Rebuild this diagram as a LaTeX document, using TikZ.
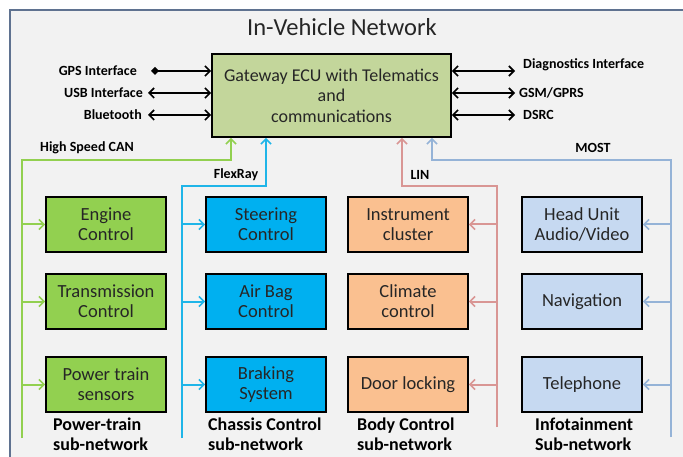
\documentclass[tikz,border=0pt]{standalone}
\usepackage{fontspec}
\setmainfont{Carlito}
\usetikzlibrary{arrows.meta}

\definecolor{pagebg}{HTML}{F2F2F2}
\definecolor{framecol}{HTML}{5F7290}
\definecolor{gwfill}{HTML}{C3D69B}
\definecolor{ptfill}{HTML}{92D050}
\definecolor{ptbus}{HTML}{92D050}
\definecolor{chfill}{HTML}{00B0F0}
\definecolor{chbus}{HTML}{1FB5E8}
\definecolor{bdfill}{HTML}{FAC090}
\definecolor{bdbus}{HTML}{D99694}
\definecolor{iffill}{HTML}{C6D9F1}
\definecolor{ifbus}{HTML}{95B3D7}
\definecolor{boxtext}{HTML}{262626}

\tikzset{
  ecu/.style={draw=black, line width=1.8pt, minimum width=120pt, minimum height=55pt,
    align=center, inner sep=1pt, text=boxtext, font=\fontsize{18.5}{20}\selectfont},
  ifacelabel/.style={inner sep=0pt, font=\fontsize{14}{16}\selectfont\bfseries},
  netlabel/.style={inner sep=0pt, align=left, anchor=west,
    font=\fontsize{18}{20}\selectfont\bfseries},
  buslabel/.style={inner sep=0pt, font=\fontsize{14}{16}\selectfont\bfseries},
  barb/.style={Straight Barb[length=5pt,width=10pt,line width=1.6pt]},
  blackarrow/.style={line width=1.6pt, {Straight Barb[length=5pt,width=10pt,line width=1.6pt]}-{Straight Barb[length=5pt,width=10pt,line width=1.6pt]}},
  bus/.style={line width=2pt},
  tap/.style={bus, -{Straight Barb[length=5pt,width=10pt,line width=1.6pt]}}
}

\begin{document}
\begin{tikzpicture}[x=1pt,y=-1pt]
\useasboundingbox (0,0) rectangle (683,457);

% panel background and frame
\fill[pagebg] (10,10) rectangle (683,457);
\draw[framecol, line width=2pt] (10,457) -- (10,10) -- (683,10);

\node[inner sep=0pt, font=\fontsize{24.5}{28}\selectfont, text=boxtext] (title) at (342,27) {In-Vehicle Network};

% gateway
\node[draw=black, line width=1.8pt, fill=gwfill, minimum width=239pt, minimum height=83pt,
  align=center, inner sep=0pt, text=boxtext, font=\fontsize{18}{20.5}\selectfont]
  (gw) at (331.5,95.5) {Gateway ECU with Telematics\\and\\communications};

% external interfaces, left
\node[ifacelabel, anchor=east] (gps) at (137,71) {GPS Interface};
\node[ifacelabel, anchor=east] (usb) at (143,93) {USB Interface};
\node[ifacelabel, anchor=east] (bt) at (142,115) {Bluetooth};
\coordinate (gpsA) at (151,71);
\coordinate (usbA) at (148,93);
\coordinate (btA) at (148,115);
\draw[line width=1.6pt, {Diamond[length=8pt,width=8pt]}-{Straight Barb[length=5pt,width=10pt,line width=1.6pt]}] (gpsA) -- (gpsA -| gw.west);
\draw[blackarrow] (usbA) -- (usbA -| gw.west);
\draw[blackarrow] (btA) -- (btA -| gw.west);

% external interfaces, right
\coordinate (diagA) at (515,71);
\coordinate (gsmA) at (515,93);
\coordinate (dsrcA) at (515,115);
\draw[blackarrow] (diagA -| gw.east) -- (diagA);
\draw[blackarrow] (gsmA -| gw.east) -- (gsmA);
\draw[blackarrow] (dsrcA -| gw.east) -- (dsrcA);
\node[ifacelabel, anchor=west] (diag) at (523,65) {Diagnostics Interface};
\node[ifacelabel, anchor=west] (gsm) at (519,93) {GSM/GPRS};
\node[ifacelabel, anchor=west] (dsrc) at (523,115) {DSRC};

% ECUs
\node[ecu, fill=ptfill] (eng) at (106,224.5) {Engine\\Control};
\node[ecu, fill=ptfill] (trans) at (106,301.5) {Transmission\\Control};
\node[ecu, fill=ptfill] (pts) at (106,384.5) {Power train\\sensors};

\node[ecu, fill=chfill] (steer) at (266,224.5) {Steering\\Control};
\node[ecu, fill=chfill] (airbag) at (266,301.5) {Air Bag\\Control};
\node[ecu, fill=chfill] (brake) at (266,384.5) {Braking\\System};

\node[ecu, fill=bdfill] (instr) at (408,224.5) {Instrument\\cluster};
\node[ecu, fill=bdfill] (clim) at (408,301.5) {Climate\\control};
\node[ecu, fill=bdfill] (door) at (408,384.5) {Door locking};

\node[ecu, fill=iffill] (head) at (582,224.5) {Head Unit\\Audio/Video};
\node[ecu, fill=iffill] (nav) at (582,301.5) {Navigation};
\node[ecu, fill=iffill] (tel) at (582,384.5) {Telephone};

% sub-network captions
\node[netlabel] (ptcap) at (53,434) {Power-train\\sub-network};
\node[netlabel] (chcap) at (208,434) {Chassis Control\\sub-network};
\node[netlabel] (bdcap) at (357,434) {Body Control\\sub-network};
\node[netlabel] (ifcap) at (535,434) {Infotainment\\Sub-network};

% High Speed CAN
\coordinate (canBot) at (22,438);
\coordinate (canTurn) at (231,160);
\draw[tap, draw=ptbus] (canBot) |- (canTurn) -- (canTurn |- gw.south);
\foreach \n in {eng,trans,pts}
  \draw[tap, draw=ptbus] (\n.west -| canBot) -- (\n.west);
\node[buslabel] (canlbl) at (87,148) {High Speed CAN};

% FlexRay
\coordinate (frBot) at (182,438);
\coordinate (frTurn) at (266,186);
\draw[tap, draw=chbus] (frBot) |- (frTurn) -- (frTurn |- gw.south);
\foreach \n in {steer,airbag,brake}
  \draw[tap, draw=chbus] (\n.west -| frBot) -- (\n.west);
\node[buslabel] (frlbl) at (236,175) {FlexRay};

% LIN
\coordinate (linBot) at (497,427);
\coordinate (linTurn) at (402,186);
\draw[tap, draw=bdbus] (linBot) |- (linTurn) -- (linTurn |- gw.south);
\foreach \n in {instr,clim,door}
  \draw[tap, draw=bdbus] (\n.east -| linBot) -- (\n.east);
\node[buslabel] (linlbl) at (420,175) {LIN};

% MOST
\coordinate (mostBot) at (671,437);
\coordinate (mostTurn) at (432,160);
\draw[tap, draw=ifbus] (mostBot) |- (mostTurn) -- (mostTurn |- gw.south);
\foreach \n in {head,nav,tel}
  \draw[tap, draw=ifbus] (\n.east -| mostBot) -- (\n.east);
\node[buslabel] (mostlbl) at (593,148) {MOST};
\end{tikzpicture}
\end{document}
